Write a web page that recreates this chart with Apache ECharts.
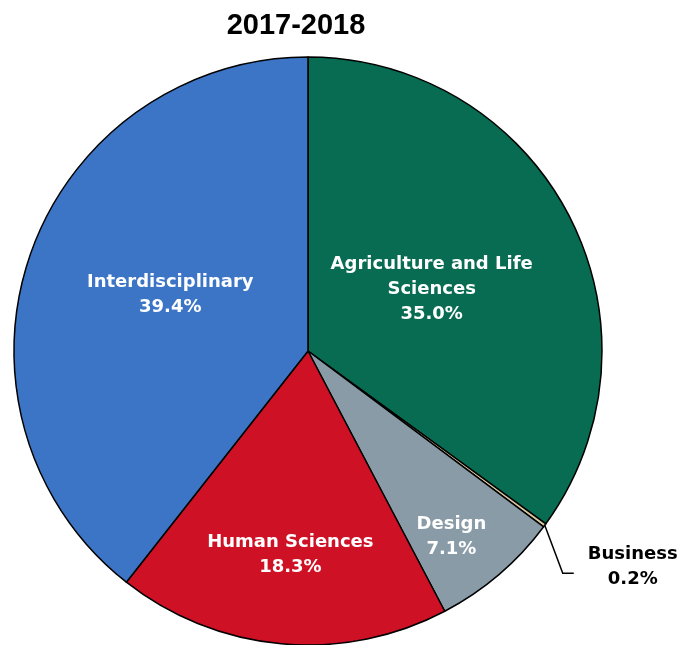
<!DOCTYPE html>
<html><head><meta charset="utf-8">
<script src="https://cdn.jsdelivr.net/npm/echarts@6/dist/echarts.min.js"></script>
<style>html,body{margin:0;padding:0;background:#fff}#c{width:682px;height:645px}</style>
</head><body><div id="c"></div>
<script>
const titleText = '2017-2018';
const categories = ['Agriculture and Life\nSciences', 'Business', 'Design', 'Human Sciences', 'Interdisciplinary'];
const values = [35.0, 0.2, 7.1, 18.3, 39.4];
const colors = ['#086c52', '#d9c8a0', '#8a9ba8', '#cf1126', '#3c75c5'];
const labelOffsets = [[-10, 6], [0, 0], [46, 72], [-4, 54], [4, -7]];

const labelFont = 'DejaVu Sans';
const chart = echarts.init(document.getElementById('c'), null, {renderer: 'canvas'});
const data = categories.map((n, i) => {
  const item = {name: n, value: values[i], itemStyle: {color: colors[i]}};
  if (n === 'Business') {
    item.label = {
      position: 'outside', color: '#000',
      formatter: p => '{c|' + p.name + '}\n{c|' + p.value.toFixed(1) + '%}',
      rich: {c: {width: 94, align: 'center', color: '#000', fontFamily: labelFont,
                 fontWeight: 'bold', fontSize: 18, lineHeight: 25}}
    };
    item.labelLine = {show: true};
  }
  return item;
});
chart.setOption({
  animation: false,
  title: {text: titleText, left: 291, top: 6, textAlign: 'center',
    textStyle: {fontFamily: 'Liberation Sans', fontWeight: 'bold', fontSize: 29, color: '#000'}},
  series: [{
    type: 'pie',
    center: [308, 351],
    radius: [0, 294],
    startAngle: 90,
    clockwise: true,
    avoidLabelOverlap: false,
    data: data,
    itemStyle: {borderColor: '#000', borderWidth: 1.5},
    label: {
      show: true, position: 'inside', color: '#fff',
      fontFamily: labelFont, fontWeight: 'bold', fontSize: 18, lineHeight: 25,
      formatter: p => p.name + '\n' + p.value.toFixed(1) + '%'
    },
    labelLine: {show: false, length: 45, length2: 12, lineStyle: {color: '#000', width: 1.5}},
    labelLayout: p => {
      if (p.labelLinePoints) {
        const s = p.labelLinePoints[0];
        const b = [s[0] + 18, s[1] + 48];
        const e = [b[0] + 11, b[1]];
        return {x: e[0] + 12, y: e[1] - 6, verticalAlign: 'middle', align: 'left',
                labelLinePoints: [s, b, e]};
      }
      const o = labelOffsets[p.dataIndex];
      return {dx: o[0], dy: o[1]};
    }
  }]
});
</script></body></html>
